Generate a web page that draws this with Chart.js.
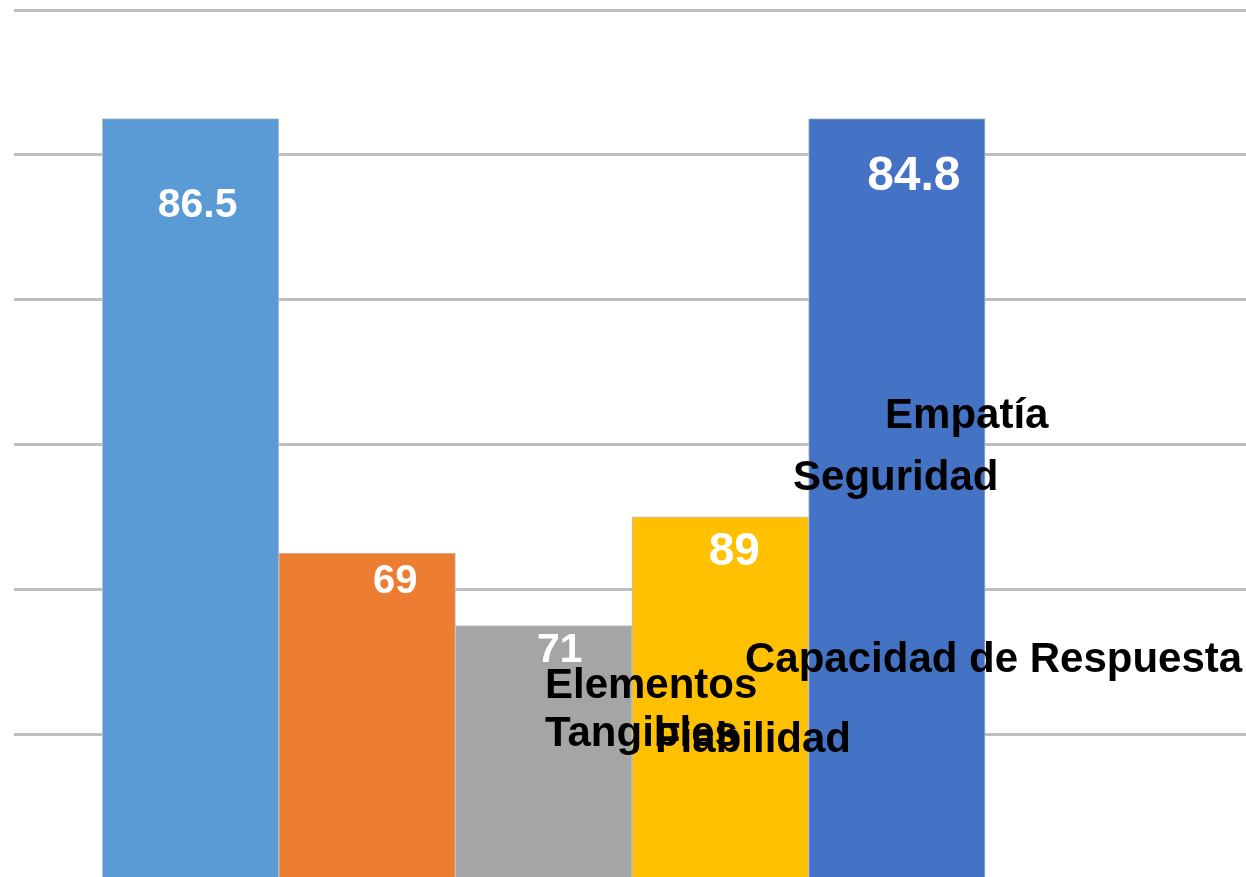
<!DOCTYPE html>
<html lang="es">
<head>
<meta charset="utf-8">
<title>Dimensiones de calidad del servicio</title>
<script src="https://cdn.jsdelivr.net/npm/chart.js@4/dist/chart.umd.min.js"></script>
<style>
  html, body { margin: 0; padding: 0; background: #fff; overflow: hidden; }
  #grafico { display: block; }
</style>
</head>
<body>
<canvas id="grafico" width="1250" height="900"></canvas>
<script>
// dimensiones y valores del gráfico
const dimensiones = ['Elementos Tangibles', 'Fiabilidad', 'Capacidad de Respuesta', 'Seguridad', 'Empatía'];
const alturas = [105, 45, 35, 50, 105];
const porcentajes = [86.5, 69, 71, 89, 84.8];
const colores = ['#5B9BD5', '#ED7D31', '#A5A5A5', '#FFC000', '#4472C4'];
const ejeY = { min: 0, max: 120, paso: 20 };

// ajustes de las etiquetas (desplazamiento respecto a la barra y tamaño)
const ajusteValores = [[7, 98], [28, 40], [16, 36], [14, 48], [17, 71]];
const tamValores = [41, 40, 41, 46, 48];
// etiquetas con el nombre de cada serie, ancladas en unidades de los ejes
const anclaNombres = [[3.007, 25.0], [3.63, 17.5], [4.14, 28.6], [4.412, 53.7], [4.933, 62.3]];
const lineasNombres = [['Elementos', 'Tangibles'], ['Fiabilidad'], ['Capacidad de Respuesta'], ['Seguridad'], ['Empatía']];

const fuente = '"Liberation Sans", Arial, sans-serif';

const etiquetas = {
    id: 'etiquetas',
    afterDatasetsDraw(chart) {
        const ctx = chart.ctx;
        const meta = chart.getDatasetMeta(0);
        const x = chart.scales.x;
        const y = chart.scales.y;
        ctx.save();

        // valores en blanco dentro de cada barra
        ctx.fillStyle = '#ffffff';
        ctx.textAlign = 'center';
        ctx.textBaseline = 'alphabetic';
        meta.data.forEach((barra, i) => {
            ctx.font = `bold ${tamValores[i]}px ${fuente}`;
            ctx.fillText(String(porcentajes[i]), barra.x + ajusteValores[i][0], barra.y + ajusteValores[i][1]);
        });

        // nombres de las dimensiones
        ctx.fillStyle = '#000000';
        ctx.textAlign = 'left';
        ctx.font = `bold 42px ${fuente}`;
        lineasNombres.forEach((lineas, i) => {
            const px = x.getPixelForValue(anclaNombres[i][0]);
            const py = y.getPixelForValue(anclaNombres[i][1]);
            lineas.forEach((texto, j) => ctx.fillText(texto, px, py + j * 48));
        });
        ctx.restore();
    }
};

new Chart(document.getElementById('grafico'), {
    type: 'bar',
    data: {
        datasets: [{
            label: 'Dimensiones',
            data: alturas.map((v, i) => ({ x: i + 1, y: v })),
            backgroundColor: colores,
            borderColor: '#bfbfbf',
            borderWidth: 1,
            barPercentage: 1,
            categoryPercentage: 1
        }]
    },
    options: {
        responsive: false,
        animation: false,
        devicePixelRatio: 1,
        layout: { padding: { left: 14, top: 10, right: 0, bottom: 21 } },
        plugins: {
            legend: { display: false },
            tooltip: { enabled: false }
        },
        scales: {
            x: {
                type: 'linear',
                min: 0,
                max: 7,
                offset: false,
                display: false,
                ticks: { stepSize: 1 }
            },
            y: {
                min: ejeY.min,
                max: ejeY.max,
                border: { display: false },
                ticks: { display: false, stepSize: ejeY.paso },
                grid: { color: '#bfbfbf', lineWidth: 3, drawTicks: false }
            }
        }
    },
    plugins: [etiquetas]
});
</script>
</body>
</html>
